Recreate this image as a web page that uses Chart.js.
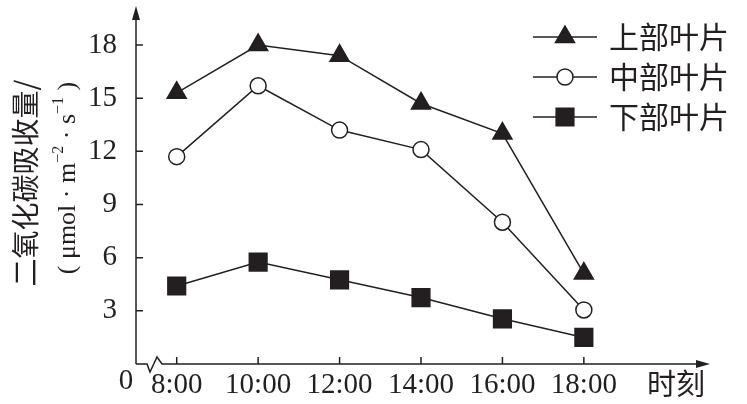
<!DOCTYPE html>
<html>
<head>
<meta charset="utf-8">
<script src="https://cdn.jsdelivr.net/npm/chart.js@4.4.0/dist/chart.umd.min.js"></script>
<style>
html, body { margin: 0; background: #fff; }
#wrap { width: 747px; height: 404px; }
</style>
</head>
<body>
<div id="wrap"><canvas id="c"></canvas></div>
<script>
// data
var hours = [8, 10, 12, 14, 16, 18]
var tickLabels = ['8:00', '10:00', '12:00', '14:00', '16:00', '18:00']
var yTicks = [3, 6, 9, 12, 15, 18]
var upper = [15.3, 18.0, 17.4, 14.7, 13.0, 5.1]
var middle = [11.7, 15.7, 13.2, 12.1, 8.0, 3.05]
var lower = [4.4, 5.75, 4.75, 3.75, 2.55, 1.5]
var seriesNames = ['上部叶片', '中部叶片', '下部叶片']

var ink = '#231f20'
var serif = '"Liberation Serif", "DejaVu Serif", serif'
var cjk = '"Noto Sans CJK SC", sans-serif'

function pts(vals) {
	return vals.map(function (v, i) { return { x: hours[i], y: v } })
}

var styles = [
	{ pointStyle: 'triangle', radius: 11, fill: ink },
	{ pointStyle: 'circle', radius: 8, fill: '#fff' },
	{ pointStyle: 'rect', radius: 12.5, fill: ink }
]

function ds(label, vals, st) {
	return {
		label: label,
		data: pts(vals),
		borderColor: ink,
		borderWidth: 1.5,
		pointStyle: st.pointStyle,
		pointRadius: st.radius,
		pointHoverRadius: st.radius,
		pointBackgroundColor: st.fill,
		pointBorderColor: ink,
		pointBorderWidth: 1.5,
		tension: 0,
		clip: false
	}
}

// axes with arrows, break mark, legend and titles
var decor = {
	id: 'decor',
	afterDatasetsDraw: function (chart) {
		var ctx = chart.ctx
		var xs = chart.scales.x, ys = chart.scales.y
		var x0 = xs.left, y0 = ys.bottom
		ctx.save()
		ctx.strokeStyle = ink
		ctx.fillStyle = ink
		ctx.lineWidth = 1.5

		// y axis
		ctx.beginPath()
		ctx.moveTo(x0, y0)
		ctx.lineTo(x0, 16)
		ctx.stroke()
		ctx.beginPath()
		ctx.moveTo(x0, 6)
		ctx.lineTo(x0 - 4, 20)
		ctx.lineTo(x0 + 4, 20)
		ctx.closePath()
		ctx.fill()

		// x axis with break
		ctx.beginPath()
		ctx.moveTo(x0, y0)
		ctx.lineTo(x0 + 11, y0)
		ctx.lineTo(x0 + 14, y0 + 8)
		ctx.lineTo(x0 + 21, y0 - 7)
		ctx.lineTo(x0 + 26, y0)
		ctx.lineTo(700, y0)
		ctx.stroke()
		ctx.beginPath()
		ctx.moveTo(710, y0)
		ctx.lineTo(696, y0 - 4)
		ctx.lineTo(696, y0 + 4)
		ctx.closePath()
		ctx.fill()

		// inward ticks
		ctx.beginPath()
		yTicks.forEach(function (v) {
			var py = ys.getPixelForValue(v)
			ctx.moveTo(x0, py)
			ctx.lineTo(x0 + 7, py)
		})
		hours.forEach(function (h) {
			var px = xs.getPixelForValue(h)
			ctx.moveTo(px, y0)
			ctx.lineTo(px, y0 - 7)
		})
		ctx.stroke()

		// origin and x title
		ctx.textBaseline = 'middle'
		ctx.textAlign = 'center'
		ctx.font = '29px ' + serif
		ctx.fillText('0', 126, 381)
		ctx.textAlign = 'left'
		ctx.font = '29px ' + cjk
		ctx.fillText('时刻', 647, 384)

		// legend
		seriesNames.forEach(function (name, i) {
			var ly = 37 + i * 40
			ctx.beginPath()
			ctx.moveTo(533, ly)
			ctx.lineTo(597, ly)
			ctx.stroke()
			var st = styles[i]
			ctx.fillStyle = st.fill
			Chart.helpers.drawPoint(ctx, { pointStyle: st.pointStyle, radius: st.radius, rotation: 0, borderWidth: 1.5 }, 565, ly)
			ctx.fillStyle = ink
			ctx.font = '30px ' + cjk
			ctx.textAlign = 'left'
			ctx.fillText(name, 609, ly)
		})

		// y title, two rotated lines
		ctx.save()
		ctx.translate(25, 183)
		ctx.rotate(-Math.PI / 2)
		ctx.textAlign = 'center'
		ctx.font = '28px ' + cjk
		ctx.fillText('二氧化碳吸收量/', 0, 0)
		ctx.restore()

		ctx.save()
		ctx.translate(68, 178)
		ctx.rotate(-Math.PI / 2)
		var parts = [['( μmol · m', 0], ['−2', 1], [' · s', 0], ['−1', 1], [' )', 0]]
		var big = '26px ' + serif, small = '16px ' + serif
		var total = 0
		parts.forEach(function (p) {
			ctx.font = p[1] ? small : big
			total += ctx.measureText(p[0]).width
		})
		var cx = -total / 2
		ctx.textAlign = 'left'
		parts.forEach(function (p) {
			ctx.font = p[1] ? small : big
			ctx.fillText(p[0], cx, p[1] ? -9 : 0)
			cx += ctx.measureText(p[0]).width
		})
		ctx.restore()

		ctx.restore()
	}
}

new Chart(document.getElementById('c'), {
	type: 'line',
	data: {
		datasets: [
			ds(seriesNames[0], upper, styles[0]),
			ds(seriesNames[1], middle, styles[1]),
			ds(seriesNames[2], lower, styles[2])
		]
	},
	options: {
		responsive: true,
		maintainAspectRatio: false,
		animation: false,
		layout: { padding: { top: 4, right: 41, left: 0, bottom: 0 } },
		plugins: { legend: { display: false }, tooltip: { enabled: false } },
		scales: {
			x: {
				type: 'linear',
				min: 7,
				max: 21,
				afterBuildTicks: function (s) { s.ticks = hours.map(function (h) { return { value: h } }) },
				afterFit: function (s) { s.height = 40; s.paddingLeft = 0; s.paddingRight = 0 },
				grid: { display: false },
				border: { display: false },
				ticks: {
					color: ink,
					font: { family: serif, size: 29 },
					padding: -4,
					maxRotation: 0,
					autoSkip: false,
					callback: function (v) { return tickLabels[hours.indexOf(v)] }
				}
			},
			y: {
				min: 0,
				max: 19.75,
				afterBuildTicks: function (s) { s.ticks = yTicks.map(function (v) { return { value: v } }) },
				afterFit: function (s) { s.width = 136; s.paddingTop = 0; s.paddingBottom = 0 },
				grid: { display: false },
				border: { display: false },
				ticks: {
					color: ink,
					font: { family: serif, size: 29 },
					padding: 11
				}
			}
		}
	},
	plugins: [decor]
})
</script>
</body>
</html>
